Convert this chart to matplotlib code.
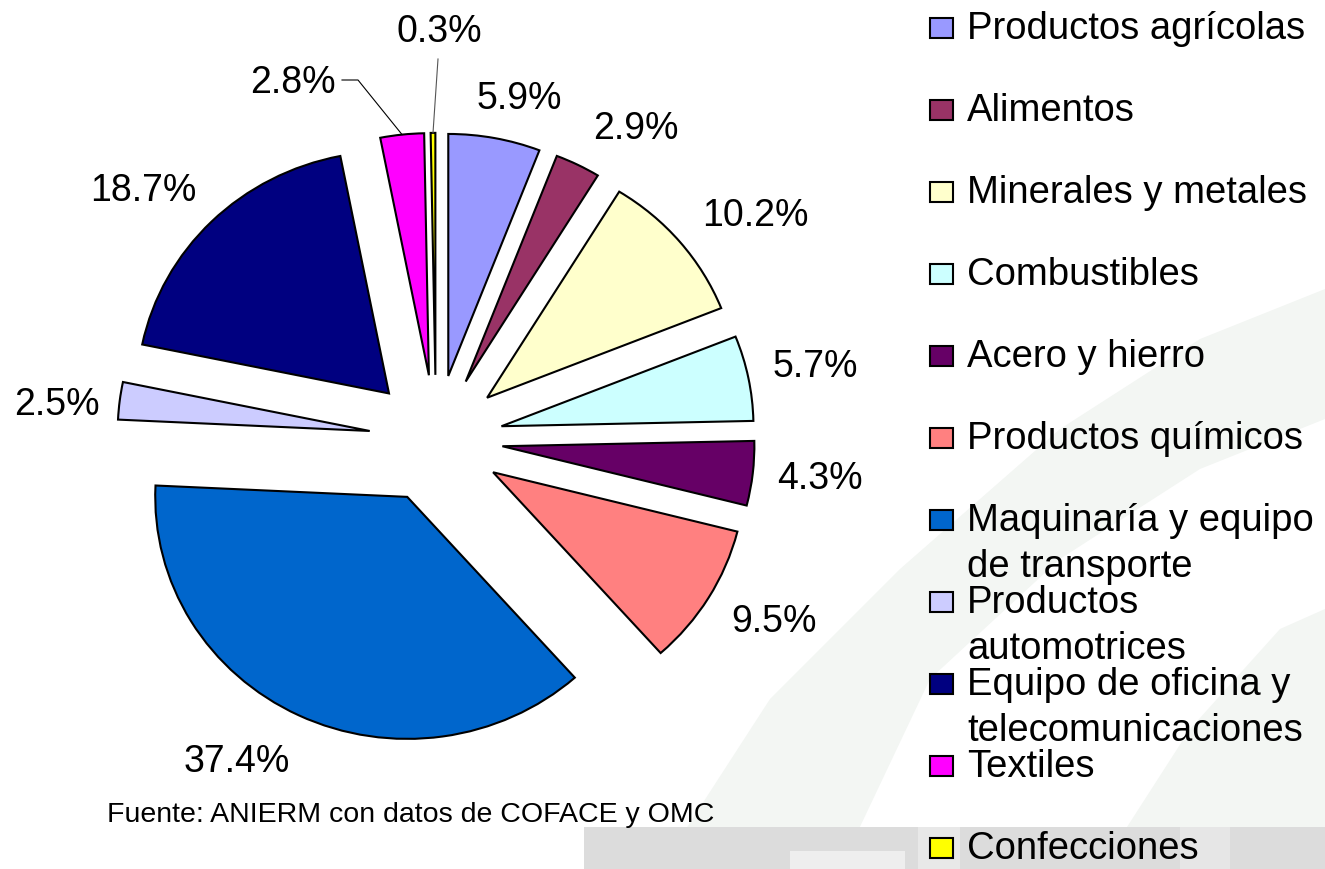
import numpy as np
import matplotlib
matplotlib.use("Agg")
import matplotlib.pyplot as plt
from matplotlib.patches import Rectangle, Polygon

# datos
categorias = ["Productos agrícolas", "Alimentos", "Minerales y metales",
              "Combustibles", "Acero y hierro", "Productos químicos",
              "Maquinaría y equipo\nde transporte", "Productos\nautomotrices",
              "Equipo de oficina y\ntelecomunicaciones", "Textiles",
              "Confecciones"]
porcentajes = [5.9, 2.9, 10.2, 5.7, 4.3, 9.5, 37.4, 2.5, 18.7, 2.8, 0.3]
colores = ["#9999FF", "#993366", "#FFFFCC", "#CCFFFF", "#660066", "#FF8080",
           "#0066CC", "#CCCCFF", "#000080", "#FF00FF", "#FFFF00"]
fuente = "Fuente: ANIERM con datos de COFACE y OMC"

# layout en pixeles (y hacia abajo)
W, H = 1325, 870
CX, CY = 436, 440
RX, RY = 252, 242
label_px = [(519, 99), (636, 129), (755, 216), (815, 367), (820, 479),
            (774, 622), (237, 762), (57, 405), (143, 191), (293, 83),
            (439, 32)]

plt.rcParams['font.family'] = ['Liberation Sans', 'DejaVu Sans']

fig = plt.figure(figsize=(W / 100, H / 100), dpi=100)

# fondo (marca de agua tenue)
bg = fig.add_axes([0, 0, 1, 1], zorder=0)
bg.set_xlim(0, W)
bg.set_ylim(H, 0)
bg.axis("off")
bg.add_patch(Polygon([(660, 870), (770, 700), (900, 570), (1060, 430),
                      (1200, 340), (1325, 290), (1325, 420), (1200, 470),
                      (1060, 560), (930, 680), (840, 870)],
                     closed=True, fc="#f3f6f3", ec="none"))
bg.add_patch(Polygon([(1100, 870), (1190, 730), (1280, 630), (1325, 610),
                      (1325, 870)], closed=True, fc="#f3f6f3", ec="none"))
bg.add_patch(Rectangle((584, 828), W - 584, H - 828, fc="#dcdcdc", ec="none"))
bg.add_patch(Rectangle((790, 852), 115, 20, fc="#eeeeee", ec="none"))
bg.add_patch(Rectangle((918, 828), 42, 42, fc="#e8e8e8", ec="none"))
bg.add_patch(Rectangle((1180, 828), 50, 42, fc="#e6e6e6", ec="none"))

# pastel
ax = fig.add_axes([0, 0, 1, 1], zorder=1)
wedges, _ = ax.pie(porcentajes, colors=colores, startangle=90,
                   counterclock=False, explode=[0.265] * len(porcentajes),
                   wedgeprops=dict(edgecolor="black", linewidth=1.5,
                                   joinstyle="miter"))
ax.set_aspect("auto")
ax.set_xlim(-CX / RX, (W - CX) / RX)
ax.set_ylim(-(H - CY) / RY, CY / RY)
ax.axis("off")


def to_px(x, y):
    return CX + x * RX, CY - y * RY


def borde(w, frac=0.5, r=1.0):
    th = np.deg2rad(w.theta1 + frac * (w.theta2 - w.theta1))
    return to_px(w.center[0] + r * w.r * np.cos(th),
                 w.center[1] + r * w.r * np.sin(th))


ov = fig.add_axes([0, 0, 1, 1], zorder=2)
ov.set_xlim(0, W)
ov.set_ylim(H, 0)
ov.axis("off")

for v, (lx, ly) in zip(porcentajes, label_px):
    ov.text(lx, ly, f"{v:.1f}%", fontsize=27, ha="center", va="center")

# lineas guia para las rebanadas chicas
ex, ey = borde(wedges[9])
lx, ly = label_px[9]
ov.plot([lx + 49, lx + 65, ex], [ly - 2, ly - 2, ey], color="black", lw=0.8)
ex, ey = borde(wedges[10])
lx, ly = label_px[10]
ov.plot([lx - 1, ex], [ly + 28, ey], color="#555555", lw=0.8)

# leyenda
for i, (nombre, c) in enumerate(zip(categorias, colores)):
    yc = 29 + i * 82.0
    ov.add_patch(Rectangle((930, yc - 10), 23, 20, fc=c, ec="black", lw=1.5))
    for j, linea in enumerate(nombre.split("\n")):
        ov.text(967, yc + j * 46, linea, fontsize=27.5, ha="left",
                va="center")

ov.text(411, 815, fuente, fontsize=20.5, ha="center", va="center")

fig.savefig("out.png", dpi=100, facecolor="white")
